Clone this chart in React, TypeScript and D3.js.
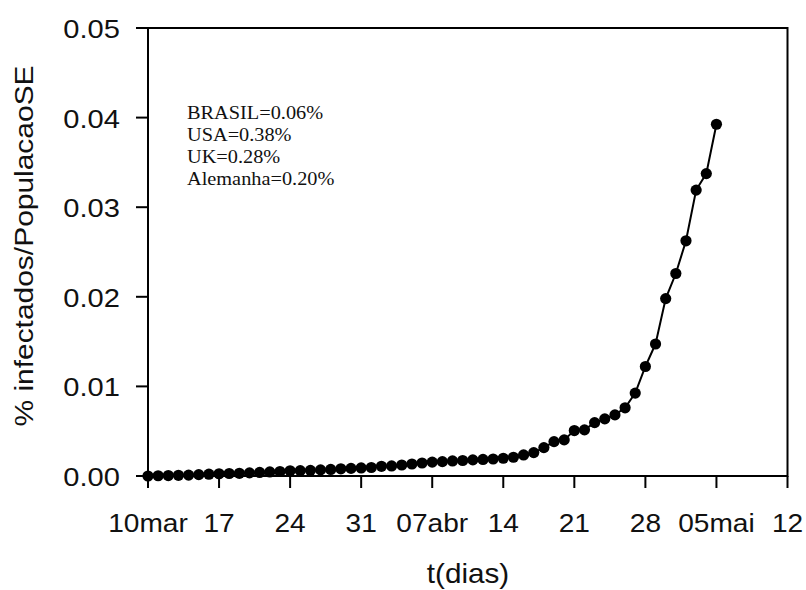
import React from "react";
import * as d3 from "d3";

// Days since 10 March and share of infected population (%)
const days: number[] = Array.from({ length: 57 }, (_, i) => i);
const infected: number[] = [
  0.0, 0.00003, 0.00005, 0.00008, 0.0001, 0.00015, 0.0002, 0.00025, 0.00028, 0.0003,
  0.00035, 0.0004, 0.00045, 0.0005, 0.00058, 0.0006, 0.00063, 0.00068, 0.00073, 0.0008,
  0.00085, 0.0009, 0.00095, 0.00108, 0.00112, 0.00123, 0.00134, 0.00145, 0.00155, 0.0016,
  0.00168, 0.00173, 0.0018, 0.00185, 0.0019, 0.00198, 0.00209, 0.00235, 0.00261, 0.00317,
  0.00384, 0.00403, 0.00507, 0.00515, 0.00596, 0.00638, 0.00682, 0.00761, 0.00925, 0.01222,
  0.01473, 0.0198, 0.0226, 0.02625, 0.03191, 0.03375, 0.03926,
];

const xTickDays: number[] = [0, 7, 14, 21, 28, 35, 42, 49, 56, 63];
const xTickLabels: string[] = ["10mar", "17", "24", "31", "07abr", "14", "21", "28", "05mai", "12"];
const yTicks: number[] = [0, 0.01, 0.02, 0.03, 0.04, 0.05];

const notes: string[] = ["BRASIL=0.06%", "USA=0.38%", "UK=0.28%", "Alemanha=0.20%"];

const W = 806;
const H = 590;
const left = 148;
const right = 787.5;
const top = 28;
const bottom = 476;

const SANS = "'Liberation Sans', Arial, sans-serif";
const SERIF = "'Liberation Serif', 'Times New Roman', serif";
const STRETCH = 1.12;

function WideText(props: {
  x: number;
  y: number;
  anchor?: "start" | "middle" | "end";
  size: number;
  family: string;
  sx?: number;
  rotate?: number;
  children: React.ReactNode;
}) {
  const { x, y, anchor = "start", size, family, sx = STRETCH, rotate = 0, children } = props;
  return (
    <g transform={`translate(${x},${y}) rotate(${rotate}) scale(${sx},1)`}>
      <text x={0} y={0} textAnchor={anchor} fontSize={size} fontFamily={family} fill="#111">
        {children}
      </text>
    </g>
  );
}

export default function App() {
  const x = d3.scaleLinear().domain([0, 63]).range([left, right]);
  const y = d3.scaleLinear().domain([0, 0.05]).range([bottom, top]);

  const line = d3
    .line<number>()
    .x((_, i) => x(days[i]))
    .y((v) => y(v));

  return (
    <svg
      width={W}
      height={H}
      style={{ position: "absolute", left: 0, top: 0, background: "#fff" }}
    >
      {/* frame */}
      <rect x={left} y={top} width={right - left} height={bottom - top} fill="none" stroke="#000" strokeWidth={2} />

      {/* y axis ticks and labels */}
      {yTicks.map((t) => (
        <g key={`y${t}`}>
          <line x1={left - 12} x2={left} y1={y(t)} y2={y(t)} stroke="#000" strokeWidth={2} />
          <WideText x={120} y={y(t) + 10} anchor="end" size={26} family={SANS}>
            {d3.format(".2f")(t)}
          </WideText>
        </g>
      ))}

      {/* x axis ticks and labels */}
      {xTickDays.map((d, i) => (
        <g key={`x${d}`}>
          <line x1={x(d)} x2={x(d)} y1={bottom} y2={bottom + 12} stroke="#000" strokeWidth={2} />
          <WideText x={x(d)} y={532} anchor="middle" size={26} family={SANS} sx={1.08}>
            {xTickLabels[i]}
          </WideText>
        </g>
      ))}

      {/* axis titles */}
      <WideText x={468} y={583} anchor="middle" size={27} family={SANS} sx={1.1}>
        t(dias)
      </WideText>
      <WideText x={33} y={246} anchor="middle" size={26.5} family={SANS} rotate={-90} sx={1.13}>
        % infectados/PopulacaoSE
      </WideText>

      {/* series */}
      <path d={line(infected) ?? ""} fill="none" stroke="#000" strokeWidth={2} />
      {infected.map((v, i) => (
        <circle key={i} cx={x(days[i])} cy={y(v)} r={5.6} fill="#000" />
      ))}

      {/* comparison notes */}
      {notes.map((n, i) => (
        <WideText key={n} x={187} y={119 + i * 22} size={19} family={SERIF} sx={1.07}>
          {n}
        </WideText>
      ))}
    </svg>
  );
}
